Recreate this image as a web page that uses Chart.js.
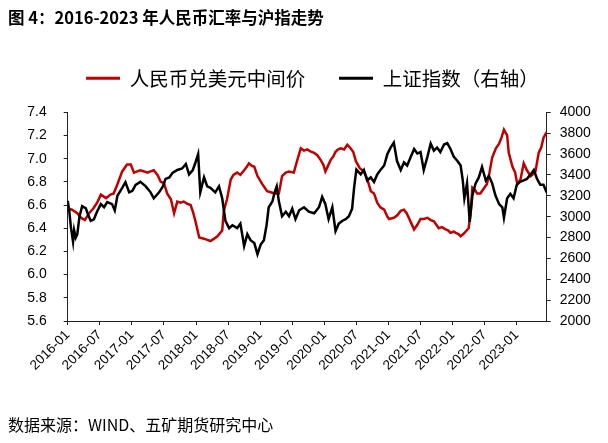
<!DOCTYPE html>
<html>
<head>
<meta charset="utf-8">
<script src="https://cdn.jsdelivr.net/npm/chart.js@4.4.1/dist/chart.umd.min.js"></script>
<style>
  html, body { margin: 0; padding: 0; background: #fff; }
  #wrap { position: relative; width: 608px; height: 443px; overflow: hidden; }
  #c { position: absolute; left: 0; top: 0; }
  #title { position: absolute; left: 8px; top: 9px; font: bold 16.5px "Noto Sans CJK SC", sans-serif; color: #000; line-height: 1; white-space: nowrap; }
  #src { position: absolute; left: 8px; top: 416px; font: 16px "Noto Sans CJK SC", sans-serif; color: #000; line-height: 1; white-space: nowrap; }
</style>
</head>
<body>
<div id="wrap">
  <canvas id="c" width="608" height="443"></canvas>
  <div id="title">图 4：2016-2023 年人民币汇率与沪指走势</div>
  <div id="src">数据来源：WIND、五矿期货研究中心</div>
</div>
<script>
// ---- data (x = months since 2016-01) ----
const seriesNames = ['人民币兑美元中间价', '上证指数（右轴）'];
const xTickLabels = ['2016-01','2016-07','2017-01','2017-07','2018-01','2018-07','2019-01','2019-07',
  '2020-01','2020-07','2021-01','2021-07','2022-01','2022-07','2023-01'];

const cnyMonth = [0,0.8,1.8,2.5,3.2,4,4.8,5.5,6.2,7.2,8,8.6,9.3,10.2,11.1,11.8,12.4,13,13.6,14.3,14.9,15.5,16.1,16.8,17.4,18,
  18.6,19.3,19.9,20.5,21.1,21.7,22.4,23,23.5,23.9,24.6,25.5,26.1,26.7,27.4,28,28.9,29.2,29.8,30.5,31,31.7,32.3,33,33.5,33.9,
  34.4,34.9,35.5,36.4,37.3,38,38.6,39.5,40.1,40.8,41.4,42.3,42.9,43.6,44.2,44.8,45.5,46.1,46.7,47.3,47.8,48.2,48.7,49.2,49.7,
  50.1,50.6,51.1,51.7,52.3,52.9,53.4,53.9,54.6,55.4,56,56.7,57.3,57.9,58.5,59.2,59.8,60.1,61,61.6,62.3,62.9,63.4,63.8,64.3,
  64.8,65.4,66,66.6,67.3,67.9,68.5,69.4,70,70.7,71.2,71.6,72.2,72.6,73.1,73.5,74,74.4,75,75.4,75.7,76.2,76.6,77.2,77.8,78.4,
  78.9,79.4,80.1,80.7,81.2,81.6,82.2,82.5,83.2,83.7,84.1,84.7,85.3,85.9,86.6,87.1,87.5,88.1,88.6,89,89.6];
const cnyRate = [6.57,6.56,6.53,6.49,6.47,6.53,6.57,6.62,6.69,6.66,6.69,6.70,6.78,6.89,6.95,6.95,6.88,6.89,6.90,6.89,6.88,6.89,6.90,6.86,6.80,6.79,
  6.70,6.65,6.53,6.63,6.62,6.63,6.61,6.60,6.53,6.46,6.32,6.31,6.30,6.29,6.31,6.33,6.38,6.55,6.65,6.82,6.86,6.88,6.86,6.90,6.93,6.96,
  6.94,6.93,6.85,6.78,6.72,6.71,6.70,6.70,6.85,6.88,6.89,6.88,6.98,7.09,7.07,7.08,7.06,7.05,7.03,6.99,6.95,6.89,6.94,6.99,7.02,
  7.06,7.08,7.09,7.08,7.12,7.09,7.06,6.98,6.92,6.89,6.83,6.72,6.70,6.62,6.58,6.56,6.50,6.48,6.49,6.51,6.55,6.56,6.53,6.49,6.44,
  6.39,6.43,6.48,6.48,6.49,6.47,6.46,6.40,6.41,6.39,6.38,6.36,6.37,6.36,6.35,6.33,6.35,6.37,6.40,6.55,6.75,6.73,6.70,6.70,6.74,6.78,
  6.88,7.01,7.09,7.13,7.19,7.25,7.20,7.05,6.93,6.88,6.78,6.82,6.96,6.90,6.85,6.87,6.89,7.05,7.10,7.18,7.23];

const shMonth = [0,0.3,0.6,1,1.2,1.5,1.8,2.2,2.7,3.4,3.8,4.3,4.9,5.5,6.2,6.8,7.4,8.3,8.8,9.3,10.2,10.8,11.5,12.1,12.7,13.6,14.6,
  15.5,16.1,17.1,17.8,18.3,19,19.6,20.5,21.4,22.1,22.7,23.4,23.9,24.4,24.8,25.5,26.1,26.7,27.6,28.3,28.9,29.5,30.2,30.8,31.7,
  32.3,33,33.6,34.2,34.9,35.5,36.1,36.7,37.2,37.6,38.3,38.7,39.1,39.5,40.1,40.8,41.4,42,42.6,43.3,44.2,45.1,46.1,47,47.6,48.2,
  48.8,49.5,50.1,50.7,51.4,52,52.6,53.2,53.6,54,54.8,55.4,56,56.7,57.3,57.9,58.5,59.2,59.8,60.4,61,61.6,62.3,62.9,63.5,64.2,
  64.8,65.4,66,66.6,67.3,67.9,68.5,69.1,69.7,70.4,71,71.6,72.2,72.9,73.5,73.9,74.2,74.7,75.2,75.7,76.3,76.9,77.5,78.2,78.8,
  79.4,80,80.7,81.3,81.6,82.2,82.8,83.4,84,84.6,85.3,85.9,86.6,87.2,87.8,88.4,89,89.6];
const shIndex = [3150,3050,2900,2760,2870,2800,2833,3000,3100,3080,3020,2960,2975,3050,3120,3090,3140,3120,3060,3200,3276,3330,3233,3247,3305,3333,3290,
  3233,3176,3233,3290,3362,3376,3419,3447,3462,3505,3405,3447,3519,3600,3233,3376,3290,3276,3233,3290,3176,2960,2890,2918,2890,
  2933,2718,2833,2775,2747,2640,2733,2775,2918,3090,3147,3233,3290,3147,3004,3047,3004,3076,2976,3061,3090,3047,3033,3090,3190,3120,
  2976,3090,2861,2933,2961,2976,3004,3076,3290,3450,3405,3447,3347,3376,3333,3405,3447,3490,3600,3662,3710,3533,3447,3519,3490,3576,
  3648,3605,3619,3447,3576,3700,3633,3662,3619,3691,3705,3648,3576,3533,3490,3347,3176,3319,2950,3204,3319,3376,3476,3347,3390,
  3319,3204,3120,3090,2990,3176,3219,3176,3305,3333,3347,3362,3405,3447,3362,3305,3305,3230];

const toPoints = (xs, ys) => xs.map((x, i) => ({ x: x, y: ys[i] }));

const LEG_PAD = 33.75;
const legendHeightFix = {
  id: 'legendHeightFix',
  beforeInit(chart) {
    const lg = chart.legend;
    if (!lg) return;
    const fit = lg.fit;
    lg.fit = function () { fit.call(this); this.height = 77.5; };
  }
};

const RED = '#C00000';
const BLACK = '#000000';

new Chart(document.getElementById('c'), {
  type: 'line',
  data: {
    datasets: [
      { label: seriesNames[0], data: toPoints(cnyMonth, cnyRate), yAxisID: 'yL',
        borderColor: RED, backgroundColor: RED, borderWidth: 2.5, pointRadius: 0, tension: 0, order: 2 },
      { label: seriesNames[1], data: toPoints(shMonth, shIndex), yAxisID: 'yR',
        borderColor: BLACK, backgroundColor: BLACK, borderWidth: 2.5, pointRadius: 0, tension: 0, order: 1 }
    ]
  },
  options: {
    responsive: false,
    animation: false,
    devicePixelRatio: 1,
    layout: { padding: { top: 34.8, left: 16.8, right: 0, bottom: 0 } },
    plugins: {
      tooltip: { enabled: false },
      legend: {
        display: true,
        position: 'top',
        align: 'center',
        labels: {
          boxWidth: 34, boxHeight: 3, padding: LEG_PAD, color: '#000',
          font: { family: '"Noto Sans CJK SC", sans-serif', size: 19.5 },
          sort: (a, b) => a.datasetIndex - b.datasetIndex,
          generateLabels(chart) {
            const items = Chart.defaults.plugins.legend.labels.generateLabels(chart);
            items.forEach(it => { it.fillStyle = it.strokeStyle; it.lineWidth = 0; });
            return items;
          }
        }
      }
    },
    scales: {
      x: {
        type: 'linear', min: 0, max: 89.6,
        afterFit(s) { s.height = 122; },
        ticks: {
          stepSize: 6, includeBounds: false, autoSkip: false, minRotation: 45, maxRotation: 45, padding: 2,
          color: '#000', font: { family: '"Liberation Sans", Arial, sans-serif', size: 13.5 },
          callback: v => xTickLabels[Math.round(v / 6)]
        },
        grid: { display: true, drawOnChartArea: false, drawTicks: true, tickLength: 4, color: '#222', lineWidth: 1 },
        border: { display: true, color: '#222', width: 1 }
      },
      yL: {
        position: 'left', min: 5.6, max: 7.4,
        afterFit(s) { s.width = 50.9; },
        ticks: { stepSize: 0.2, padding: 17, color: '#000',
          font: { family: '"Liberation Sans", Arial, sans-serif', size: 14 },
          callback: v => Number(v).toFixed(1) },
        grid: { display: true, drawOnChartArea: false, drawTicks: true, tickLength: 4, color: '#222', lineWidth: 1 },
        border: { display: true, color: '#222', width: 1 }
      },
      yR: {
        position: 'right', min: 2000, max: 4000,
        afterFit(s) { s.width = 61.3; },
        ticks: { stepSize: 200, padding: 9, color: '#000',
          font: { family: '"Liberation Sans", Arial, sans-serif', size: 14 },
          callback: v => String(v) },
        grid: { display: true, drawOnChartArea: false, drawTicks: true, tickLength: 4, color: '#222', lineWidth: 1 },
        border: { display: true, color: '#222', width: 1 }
      }
    }
  },
  plugins: [legendHeightFix]
});
</script>
</body>
</html>
